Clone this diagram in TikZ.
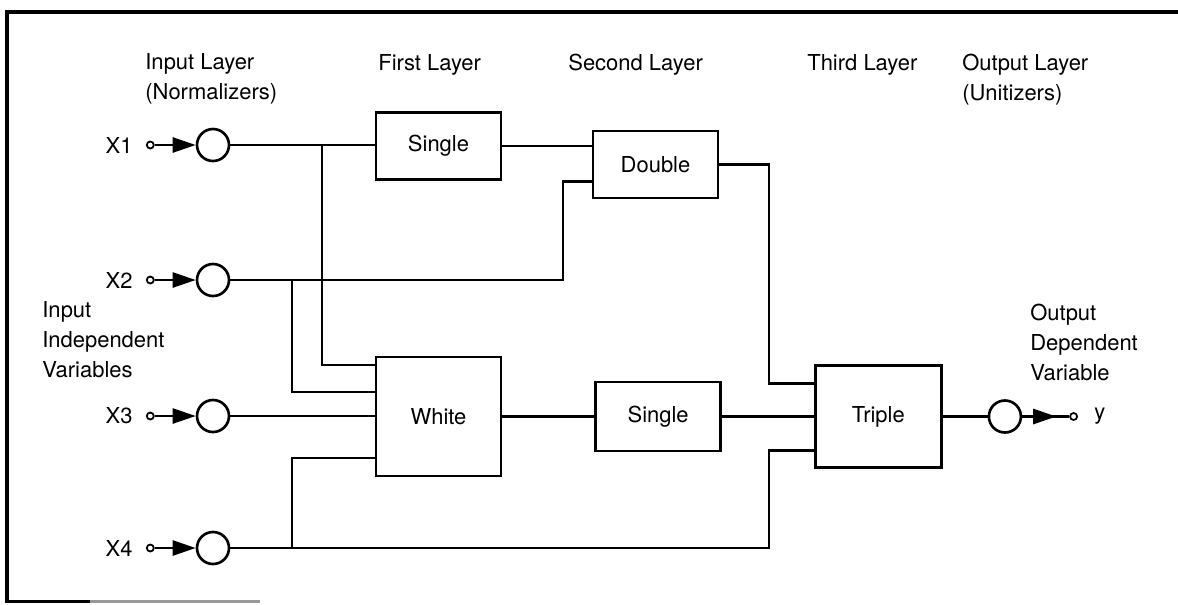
\documentclass[tikz,border=0pt]{standalone}
\usepackage{fontspec}
\setmainfont{TeX Gyre Heros}
\usetikzlibrary{arrows.meta,positioning,calc}
\tikzset{
    %Define standard arrow tip
    >={Triangle[length=4.6mm,width=3mm]},
    %Define style for boxes
    boks/.style={
           rectangle,
           draw=black, line width=1.5pt,
           minimum width=2.5cm,
           inner sep=0pt,
           font=\fontsize{12.5}{16.5}\selectfont},
    % Define style for normalizer circles
    ring/.style={
           circle,
           draw=black, line width=1.5pt,
           minimum size=0.64cm,
           inner sep=0pt},
    % Small terminal dot
    prikk/.style={
           circle,
           draw=black, line width=1pt,
           fill=white,
           minimum size=0.14cm,
           inner sep=0pt},
    % Define line style
    linje/.style={
           line width=1.5pt},
    % Node for labels
    tekst/.style={
           align=left,
           inner sep=0pt,
           font=\fontsize{12.5}{17}\selectfont}
}

\begin{document}
\begin{tikzpicture}[node distance=1cm, auto,]
    \useasboundingbox (0,0) rectangle (23.56,-12.08);
    % frame
    \draw[linje, line width=1.8pt] (23.56,-0.24) -- (0.14,-0.24) -- (0.14,-12.03) -- (1.8,-12.03);
    \draw[linje, line width=1.8pt, black!40] (1.8,-12.03) -- (5.2,-12.03);

    % input layer
    \foreach \i/\y in {1/-2.90,2/-5.60,3/-8.32,4/-10.96}{
        \node[ring] (n\i) at (4.26,\y) {};
        \node[prikk, left=0.82cm of n\i] (d\i) {};
        \node[tekst, left=0.26cm of d\i] (x\i) {X\i};
        \draw[linje,->] (d\i) -- (n\i);
    }

    % layers
    \node[boks, minimum height=1.34cm] (single1) at (8.77,-2.92) {Single};
    \node[boks, minimum height=1.34cm] (double) at (13.11,-3.29) {Double};
    \node[boks, minimum height=2.38cm] (white) at (8.77,-8.33) {White};
    \node[boks, minimum height=1.38cm, right=1.84cm of white] (single2) {Single};
    \node[boks, minimum height=2.04cm, minimum width=2.52cm, right=1.84cm of single2] (triple) {Triple};

    % output layer
    \node[ring, right=0.9cm of triple] (nout) {};
    \node[prikk, right=0.94cm of nout] (dout) {};
    \node[tekst, right=0.32cm of dout] (yout) {y};

    % headings
    \node[tekst, anchor=north west] (hin) at (2.90,-1.06) {Input Layer\\(Normalizers)};
    \node[tekst, anchor=north west] (h1) at (7.56,-1.08) {First Layer};
    \node[tekst, anchor=north west] (h2) at (11.36,-1.08) {Second Layer};
    \node[tekst, anchor=north west] (h3) at (16.14,-1.08) {Third Layer};
    \node[tekst, anchor=north west] (hout) at (19.24,-1.08) {Output Layer\\(Unitizers)};
    \node[tekst, anchor=north west] (invar) at (0.84,-6.02) {Input\\Independent\\Variables};
    \node[tekst, anchor=north west] (outvar) at (20.6,-6.08) {Output\\Dependent\\Variable};

    % connections
    \coordinate (b1) at (6.44,-2.90);
    \coordinate (b2) at (5.84,-5.60);
    \coordinate (b4) at (5.84,-10.96);
    \coordinate (k2) at (11.26,-5.60);
    \draw[linje] (n1) -- (n1 -| single1.west);
    \draw[linje] (b1) |- ([yshift=1.03cm]white.west);
    \draw[linje] (n2) -- (k2) |- ([yshift=-0.34cm]double.west);
    \draw[linje] (b2) |- ([yshift=0.49cm]white.west);
    \draw[linje] (n3) -- (n3 -| white.west);
    \draw[linje] (n4) -| ([xshift=-0.9cm,yshift=-0.68cm]triple.west) -- ([yshift=-0.68cm]triple.west);
    \draw[linje] (b4) |- ([yshift=-0.83cm]white.west);
    \draw[linje] (single1.east) -- (single1.east -| double.west);
    \draw[linje] (double.east) -| ([xshift=-0.9cm,yshift=0.66cm]triple.west) -- ([yshift=0.66cm]triple.west);
    \draw[linje] (white.east) -- (white.east -| single2.west);
    \draw[linje] (single2.east) -- (single2.east -| triple.west);
    \draw[linje] (triple) -- (nout);
    \draw[linje] (nout) -- (dout);
    \draw[linje,->] (nout) -- ([xshift=-0.26cm]dout.west);
\end{tikzpicture}
\end{document}
